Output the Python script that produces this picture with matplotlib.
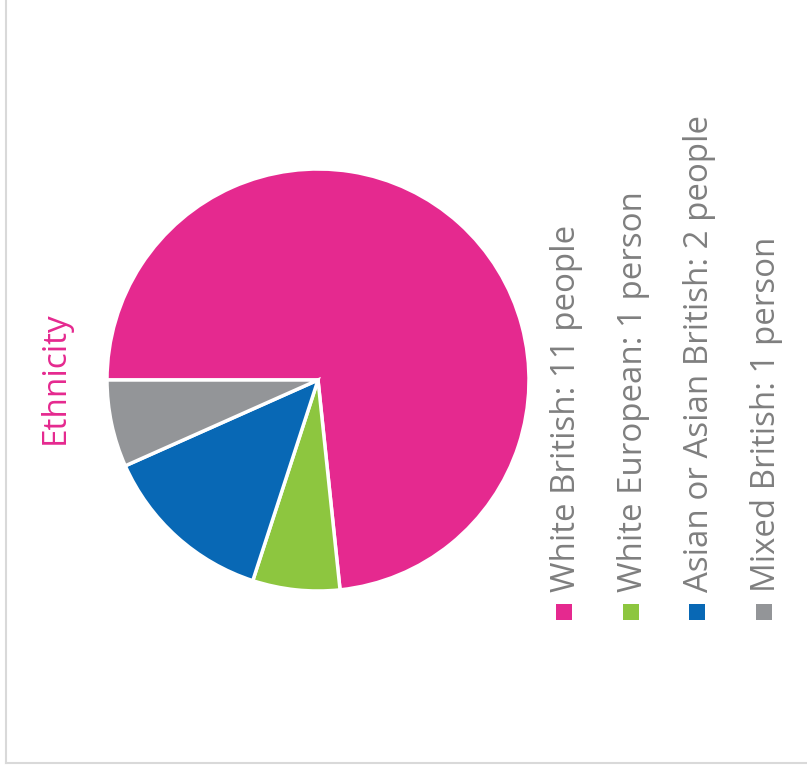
import matplotlib.pyplot as plt
from matplotlib.patches import Rectangle
from matplotlib.lines import Line2D

# ethnicity breakdown
groups = ['White British', 'White European', 'Asian or Asian British', 'Mixed British']
counts = [11, 1, 2, 1]
units = ['people', 'person', 'people', 'person']
colors = ['#E5298F', '#8DC63F', '#0868B5', '#939598']

W, H = 807, 772
fig = plt.figure(figsize=(W / 100, H / 100), dpi=100)
plt.rcParams['font.family'] = ['Open Sans', 'DejaVu Sans']

# pie axes: centre (318, 380) px, radius 211 px
cx, cy, r = 318, 380, 211
ax = fig.add_axes([(cx - r) / W, (H - cy - r) / H, 2 * r / W, 2 * r / H])
ax.pie(counts, colors=colors, startangle=180, counterclock=False, radius=1,
       wedgeprops=dict(edgecolor='white', linewidth=2.5))
ax.set_xlim(-1, 1)
ax.set_ylim(-1, 1)
ax.set_aspect('equal')
ax.axis('off')

# thin frame on the left and bottom
fig.add_artist(Line2D([5.5 / W, 5.5 / W], [1, (H - 763) / H], color='#d9d9d9', lw=1.5))
fig.add_artist(Line2D([5.5 / W, 1], [(H - 763) / H, (H - 763) / H], color='#d9d9d9', lw=1.5))

# rotated title
fig.text(55 / W, (H - 378) / H, 'Ethnicity', rotation=90, color='#E5298F',
         fontsize=24, ha='center', va='center')

# rotated legend
for i, (g, c, u, col) in enumerate(zip(groups, counts, units, colors)):
    mx = 564 + i * 66.7
    fig.add_artist(Rectangle(((mx - 8) / W, (H - 620) / H), 16 / W, 16 / H,
                             facecolor=col, edgecolor='none'))
    fig.text((mx + 11) / W, (H - 592) / H, f'{g}: {c} {u}', rotation=90,
             rotation_mode='anchor', ha='left', va='baseline',
             color='#7f7f7f', fontsize=23.8)

fig.savefig('out.png', dpi=100, facecolor='white')
